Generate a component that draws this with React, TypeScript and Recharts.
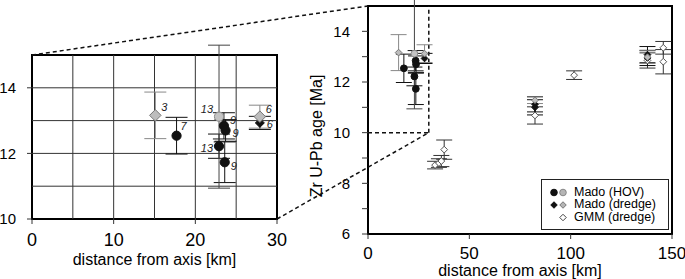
import React from "react";
import {
  ErrorBar,
  Label,
  Legend,
  ReferenceArea,
  ReferenceLine,
  Scatter,
  ScatterChart,
  XAxis,
  YAxis,
} from "recharts";

// Mado, HOV samples (black = one symbol set, gray = the other)
const hovBlackDist = [17.7, 22.9, 23.5, 23.7, 23.6];
const hovBlackAge = [12.54, 12.22, 12.84, 12.7, 11.73];
const hovBlackErr = [0.56, 0.37, 0.4, 0.33, 0.62];
const hovBlackN = ["7", "13", "9", "9", "9"];

const hovGrayDist = [22.9];
const hovGrayAge = [13.12];
const hovGrayErr = [2.18];
const hovGrayN = ["13"];

// Mado, dredge samples
const dredgeBlackDist = [27.9, 82.4, 82.4, 137.9, 137.9];
const dredgeBlackAge = [12.93, 11.12, 11.0, 13.08, 12.95];
const dredgeBlackErr = [0.2, 0.3, 0.3, 0.32, 0.3];
const dredgeBlackN = ["6", "", "", "", ""];

const dredgeGrayDist = [15.1, 27.9, 82.4, 137.9];
const dredgeGrayAge = [13.16, 13.12, 11.28, 12.98];
const dredgeGrayErr = [0.71, 0.35, 0.13, 0.25];
const dredgeGrayN = ["3", "6", "", ""];

// GMM, dredge samples
const gmmDist = [33.1, 35.0, 36.2, 37.6, 82.4, 101.7, 137.9, 145.7, 145.7];
const gmmAge = [8.72, 8.8, 8.88, 9.33, 10.68, 12.27, 12.85, 13.35, 12.8];
const gmmErr = [0.15, 0.17, 0.22, 0.38, 0.34, 0.17, 0.3, 0.25, 0.48];

// axes
const insetXDomain = [0, 30];
const insetYDomain = [10, 15];
const insetXTicks = [0, 10, 20, 30];
const insetYTicks = [10, 12, 14];
const insetGridX = [5, 10, 15, 20, 25];
const insetGridY = [11, 12, 13, 14];

const mainXDomain = [0, 150];
const mainYDomain = [6, 15];
const mainXTicks = [0, 50, 100, 150];
const mainXMinor = [0, 10, 20, 30, 40, 50, 60, 70, 80, 90, 100, 110, 120, 130, 140, 150];
const mainYTicks = [6, 7, 8, 9, 10, 11, 12, 13, 14];

const legendLabels = ["Mado (HOV)", "Mado (dredge)", "GMM (dredge)"];

const FONT = "'Liberation Sans', Arial, Helvetica, sans-serif";

// panel geometry (page px)
const INSET = { left: 0, width: 300, height: 279, margin: { top: 55, right: 23, bottom: 0, left: 0 }, yw: 32, xh: 60 };
const MAIN = { left: 300, width: 385, height: 279, margin: { top: 6, right: 13, bottom: 0, left: 0 }, yw: 68, xh: 45 };

// where the small italic sample counts sit next to a marker (inset only)
const TAG_PLACE: Record<string, [number, number, "start" | "end"]> = {
  "hb-0": [4, -9, "start"],
  "hb-1": [-6, 3, "end"],
  "hb-2": [6, -5, "start"],
  "hb-3": [7, 4, "start"],
  "hb-4": [6, 5, "start"],
  "hg-0": [-6, -7, "end"],
  "db-0": [7, 2, "start"],
  "dg-0": [6, -7, "start"],
  "dg-1": [6, -7, "start"],
};

type Pt = { x: number; y: number; err: number; tag: string; id: string };

function rows(prefix: string, xs: number[], ys: number[], errs: number[], tags?: string[]): Pt[] {
  return xs.map((x, i) => ({ x, y: ys[i], err: errs[i], tag: tags ? tags[i] : "", id: `${prefix}-${i}` }));
}

const hovBlack = rows("hb", hovBlackDist, hovBlackAge, hovBlackErr, hovBlackN);
const hovGray = rows("hg", hovGrayDist, hovGrayAge, hovGrayErr, hovGrayN);
const dredgeBlack = rows("db", dredgeBlackDist, dredgeBlackAge, dredgeBlackErr, dredgeBlackN);
const dredgeGray = rows("dg", dredgeGrayDist, dredgeGrayAge, dredgeGrayErr, dredgeGrayN);
const gmm = rows("gm", gmmDist, gmmAge, gmmErr);

const inInset = (d: Pt) => d.x <= insetXDomain[1];

type Style = { kind: "circle" | "diamond"; fill: string; stroke: string; bar: string; rInset: number; rMain: number };

const SERIES: { name: string; data: Pt[]; style: Style }[] = [
  { name: "gmm", data: gmm, style: { kind: "diamond", fill: "#fff", stroke: "#555", bar: "#333", rInset: 4, rMain: 2.7 } },
  { name: "dredgeBlack", data: dredgeBlack, style: { kind: "diamond", fill: "#111", stroke: "#111", bar: "#111", rInset: 3.6, rMain: 2.7 } },
  { name: "hovBlack", data: hovBlack, style: { kind: "circle", fill: "#111", stroke: "#111", bar: "#111", rInset: 4.6, rMain: 3.4 } },
  { name: "dredgeGray", data: dredgeGray, style: { kind: "diamond", fill: "#bdbdbd", stroke: "#777", bar: "#888", rInset: 4.6, rMain: 2.7 } },
  { name: "hovGray", data: hovGray, style: { kind: "circle", fill: "#c4c4c4", stroke: "#8a8a8a", bar: "#444", rInset: 4.6, rMain: 3.4 } },
];

function Marker({ cx, cy, kind, fill, stroke, r }: { cx: number; cy: number; kind: string; fill: string; stroke: string; r: number }) {
  if (kind === "circle") {
    return <circle cx={cx} cy={cy} r={r} fill={fill} stroke={stroke} strokeWidth={1} />;
  }
  const d = r * 1.25;
  return (
    <polygon
      points={`${cx},${cy - d} ${cx + d},${cy} ${cx},${cy + d} ${cx - d},${cy}`}
      fill={fill}
      stroke={stroke}
      strokeWidth={1}
    />
  );
}

function makeShape(style: Style, r: number, withTags: boolean) {
  return (p: any) => {
    if (p.cx == null || p.cy == null) return <g />;
    const payload: Pt = p.payload ?? {};
    const place = withTags && payload.tag ? TAG_PLACE[payload.id] : undefined;
    return (
      <g>
        <Marker cx={p.cx} cy={p.cy} kind={style.kind} fill={style.fill} stroke={style.stroke} r={r} />
        {place && (
          <text
            x={p.cx + place[0]}
            y={p.cy + place[1]}
            textAnchor={place[2]}
            dominantBaseline="middle"
            fontSize={11}
            fontStyle="italic"
            fill="#222"
            stroke="none"
            fontFamily={FONT}
          >
            {payload.tag}
          </text>
        )}
      </g>
    );
  };
}

const tickText = { fill: "#000", fontFamily: FONT };

function InsetChart() {
  return (
    <ScatterChart width={INSET.width} height={INSET.height} margin={INSET.margin}>
      {insetGridX.map((v) => (
        <ReferenceLine key={`gx${v}`} x={v} stroke="#333" strokeWidth={1} />
      ))}
      {insetGridY.map((v) => (
        <ReferenceLine key={`gy${v}`} y={v} stroke="#333" strokeWidth={1} />
      ))}
      <ReferenceArea
        x1={insetXDomain[0]}
        x2={insetXDomain[1]}
        y1={insetYDomain[0]}
        y2={insetYDomain[1]}
        fill="none"
        fillOpacity={0}
        stroke="#000"
        strokeWidth={2}
        strokeOpacity={1}
      />
      <XAxis
        type="number"
        dataKey="x"
        domain={insetXDomain}
        ticks={insetXTicks}
        allowDataOverflow
        height={INSET.xh}
        stroke="#333"
        axisLine={false}
        tickLine
        tickSize={5}
        tickMargin={9}
        tick={{ ...tickText, fontSize: 18 }}
      >
        <Label value="distance from axis [km]" position="insideBottom" offset={14} fill="#000" fontSize={16} fontFamily={FONT} />
      </XAxis>
      <XAxis
        xAxisId="top"
        orientation="top"
        type="number"
        domain={insetXDomain}
        ticks={insetXTicks}
        allowDataOverflow
        height={0}
        stroke="#333"
        axisLine={false}
        tickLine
        tickSize={5}
        tick={false}
      />
      <YAxis
        type="number"
        dataKey="y"
        domain={insetYDomain}
        ticks={insetYTicks}
        allowDataOverflow
        width={INSET.yw}
        stroke="#333"
        axisLine={false}
        tickLine
        tickSize={5}
        tickMargin={11}
        tick={{ ...tickText, fontSize: 15 }}
      />
      <YAxis
        yAxisId="r"
        orientation="right"
        type="number"
        domain={insetYDomain}
        ticks={[12, 13, 14]}
        allowDataOverflow
        width={0}
        stroke="#333"
        axisLine={false}
        tickLine
        tickSize={7}
        tick={false}
      />
      {SERIES.map((s) => (
        <Scatter
          key={s.name}
          data={s.data.filter(inInset)}
          isAnimationActive={false}
          shape={makeShape(s.style, s.style.rInset, true)}
        >
          <ErrorBar dataKey="err" direction="y" width={11} stroke={s.style.bar} strokeWidth={1} />
        </Scatter>
      ))}
    </ScatterChart>
  );
}

function LegendBox() {
  const rowY = [13.5, 26, 38.5];
  return (
    <svg width={128} height={51} style={{ display: "block" }}>
      <rect x={0.5} y={0.5} width={127} height={50} fill="#fff" stroke="#222" strokeWidth={1} />
      <Marker cx={13} cy={rowY[0]} kind="circle" fill="#111" stroke="#111" r={3.3} />
      <Marker cx={22} cy={rowY[0]} kind="circle" fill="#b5b5b5" stroke="#888" r={3.3} />
      <Marker cx={13} cy={rowY[1]} kind="diamond" fill="#111" stroke="#111" r={2.6} />
      <Marker cx={22} cy={rowY[1]} kind="diamond" fill="#b5b5b5" stroke="#777" r={2.6} />
      <Marker cx={22} cy={rowY[2]} kind="diamond" fill="#fff" stroke="#444" r={2.6} />
      {legendLabels.map((t, i) => (
        <text key={t} x={33} y={rowY[i]} dominantBaseline="middle" fontSize={12.5} fill="#000" fontFamily={FONT}>
          {t}
        </text>
      ))}
    </svg>
  );
}

// centre of the rotated y-axis title in the main panel
const mainTitleX = 18;
const mainTitleY = MAIN.margin.top + (MAIN.height - MAIN.margin.top - MAIN.xh) / 2 + 16;

function MainChart() {
  return (
    <ScatterChart width={MAIN.width} height={MAIN.height} margin={MAIN.margin}>
      <ReferenceArea
        x1={mainXDomain[0]}
        x2={mainXDomain[1]}
        y1={mainYDomain[0]}
        y2={mainYDomain[1]}
        fill="none"
        fillOpacity={0}
        stroke="#000"
        strokeWidth={2}
        strokeOpacity={1}
      />
      <XAxis
        type="number"
        dataKey="x"
        domain={mainXDomain}
        ticks={mainXTicks}
        allowDataOverflow
        height={MAIN.xh}
        stroke="#333"
        axisLine={false}
        tickLine
        tickSize={5}
        tickMargin={8}
        tick={{ ...tickText, fontSize: 17 }}
      >
        <Label value="distance from axis [km]" position="insideBottom" offset={3} fill="#000" fontSize={16} fontFamily={FONT} />
      </XAxis>
      <XAxis
        xAxisId="minor"
        orientation="bottom"
        mirror
        type="number"
        domain={mainXDomain}
        ticks={mainXMinor}
        allowDataOverflow
        height={0}
        stroke="#333"
        axisLine={false}
        tickLine
        tickSize={4}
        tick={false}
      />
      <XAxis
        xAxisId="top"
        orientation="top"
        type="number"
        domain={mainXDomain}
        ticks={mainXMinor}
        allowDataOverflow
        height={0}
        stroke="#333"
        axisLine={false}
        tickLine
        tickSize={4}
        tick={false}
      />
      <YAxis
        type="number"
        dataKey="y"
        domain={mainYDomain}
        ticks={mainYTicks}
        allowDataOverflow
        width={MAIN.yw}
        stroke="#333"
        axisLine={false}
        tickLine
        tickSize={6}
        tickMargin={12}
        tickFormatter={(v: number) => (v % 2 === 0 ? String(v) : "")}
        tick={{ ...tickText, fontSize: 15 }}
      >
        <Label
          content={() => (
            <text
              transform={`translate(${mainTitleX},${mainTitleY}) rotate(-90)`}
              textAnchor="middle"
              dominantBaseline="middle"
              fontSize={16}
              fill="#000"
              fontFamily={FONT}
            >
              Zr U-Pb age [Ma]
            </text>
          )}
        />
      </YAxis>
      <YAxis
        yAxisId="r"
        orientation="right"
        type="number"
        domain={mainYDomain}
        ticks={mainYTicks}
        allowDataOverflow
        width={0}
        stroke="#333"
        axisLine={false}
        tickLine
        tickSize={5}
        tick={false}
      />
      <ReferenceLine
        segment={[
          { x: insetXDomain[0], y: insetYDomain[0] },
          { x: insetXDomain[1], y: insetYDomain[0] },
        ]}
        stroke="#111"
        strokeWidth={1.5}
        strokeDasharray="4 3"
      />
      <ReferenceLine
        segment={[
          { x: insetXDomain[1], y: insetYDomain[0] },
          { x: insetXDomain[1], y: insetYDomain[1] },
        ]}
        stroke="#111"
        strokeWidth={1.5}
        strokeDasharray="4 3"
      />
      {SERIES.map((s) => (
        <Scatter
          key={s.name}
          data={s.data}
          isAnimationActive={false}
          shape={makeShape(s.style, s.style.rMain, false)}
        >
          <ErrorBar dataKey="err" direction="y" width={8} stroke={s.style.bar} strokeWidth={1} />
        </Scatter>
      ))}
      <Legend
        layout="vertical"
        align="center"
        verticalAlign="middle"
        wrapperStyle={{ left: 241, top: 179, width: 128, height: 51 }}
        content={() => <LegendBox />}
      />
    </ScatterChart>
  );
}

// page position of a data value inside one of the two plot areas
function toPage(panel: typeof INSET, xd: number[], yd: number[], x: number, y: number) {
  const pl = panel.left + panel.margin.left + panel.yw;
  const pw = panel.width - panel.margin.left - panel.margin.right - panel.yw;
  const pt = panel.margin.top;
  const ph = panel.height - panel.margin.top - panel.margin.bottom - panel.xh;
  return [pl + ((x - xd[0]) / (xd[1] - xd[0])) * pw, pt + ((yd[1] - y) / (yd[1] - yd[0])) * ph];
}

function Connectors() {
  const a0 = toPage(INSET, insetXDomain, insetYDomain, insetXDomain[0], insetYDomain[1]);
  const a1 = toPage(MAIN, mainXDomain, mainYDomain, insetXDomain[0], insetYDomain[1]);
  const b0 = toPage(INSET, insetXDomain, insetYDomain, insetXDomain[1], insetYDomain[0]);
  const b1 = toPage(MAIN, mainXDomain, mainYDomain, insetXDomain[1], insetYDomain[0]);
  return (
    <svg width={685} height={279} style={{ position: "absolute", left: 0, top: 0, pointerEvents: "none" }}>
      <line x1={a0[0]} y1={a0[1]} x2={a1[0]} y2={a1[1]} stroke="#111" strokeWidth={1.5} strokeDasharray="4 3" />
      <line x1={b0[0]} y1={b0[1]} x2={b1[0]} y2={b1[1]} stroke="#111" strokeWidth={1.5} strokeDasharray="4 3" />
    </svg>
  );
}

export default function App() {
  return (
    <div style={{ position: "absolute", left: 0, top: 0, width: 685, height: 279, background: "#fff", fontFamily: FONT }}>
      <div style={{ position: "absolute", left: INSET.left, top: 0 }}>
        <InsetChart />
      </div>
      <div style={{ position: "absolute", left: MAIN.left, top: 0 }}>
        <MainChart />
      </div>
      <Connectors />
    </div>
  );
}
